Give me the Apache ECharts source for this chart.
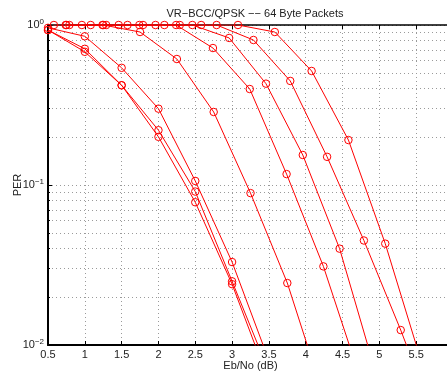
<!DOCTYPE html>
<html><head><meta charset="utf-8">
<script src="https://cdn.jsdelivr.net/npm/echarts@6/dist/echarts.min.js"></script>
<style>html,body{margin:0;padding:0;background:#fff}#c{width:447px;height:374px}</style>
</head><body><div id="c"></div>
<script>
const titleText = 'VR\u2212BCC/QPSK \u2212\u2212 64 Byte Packets';
const xName = 'Eb/No (dB)';
const yName = 'PER';

const c1x = [0.5, 1, 1.5, 2, 2.5, 3, 3.5];
const c1y = [0.96, 0.85, 0.54, 0.30, 0.106, 0.033, 0.0080];
const c2x = [0.5, 1, 1.5, 2, 2.5, 3, 3.5];
const c2y = [0.93, 0.71, 0.42, 0.22, 0.091, 0.025, 0.0068];
const c3x = [0.5, 1, 1.5, 2, 2.5, 3, 3.5];
const c3y = [0.93, 0.68, 0.42, 0.20, 0.078, 0.024, 0.0059];
const c4x = [0.75, 1.25, 1.75, 2.25, 2.75, 3.25, 3.75, 4.25];
const c4y = [1, 1, 0.904, 0.613, 0.286, 0.089, 0.0244, 0.0047];
const c5x = [0.74, 1.24, 1.74, 2.24, 2.74, 3.24, 3.74, 4.24, 4.74];
const c5y = [1, 1, 1, 1, 0.718, 0.398, 0.117, 0.031, 0.0062];
const c6x = [0.96, 1.46, 1.96, 2.46, 2.96, 3.46, 3.96, 4.46, 4.96];
const c6y = [1, 1, 1, 1, 0.83, 0.43, 0.154, 0.040, 0.0065];
const c7x = [0.79, 1.29, 1.79, 2.29, 2.79, 3.29, 3.79, 4.29, 4.79, 5.29, 5.79];
const c7y = [1, 1, 1, 1, 1, 0.806, 0.447, 0.150, 0.045, 0.0124, 0.0031];
const c8x = [0.58, 1.08, 1.58, 2.08, 2.58, 3.08, 3.58, 4.08, 4.58, 5.08, 5.58];
const c8y = [1, 1, 1, 1, 1, 1, 0.904, 0.516, 0.191, 0.043, 0.0076];

const curves = [[c1x,c1y],[c2x,c2y],[c3x,c3y],[c4x,c4y],[c5x,c5y],[c6x,c6y],[c7x,c7y],[c8x,c8y]];

const font = '"Liberation Sans", Arial, Helvetica, sans-serif';
const gridLine = { show: true, lineStyle: { color: '#9a9a9a', type: [1, 3], width: 1 } };

const series = curves.map(([xs, ys]) => ({
  type: 'line',
  data: xs.map((x, i) => [x, ys[i]]),
  symbol: 'circle',
  symbolSize: 7.5,
  showSymbol: true,
  lineStyle: { color: '#ff0000', width: 1 },
  itemStyle: { color: 'rgba(0,0,0,0)', borderColor: '#ff0000', borderWidth: 1 },
  silent: true,
  animation: false
}));

const chart = echarts.init(document.getElementById('c'), null, { renderer: 'canvas' });
chart.setOption({
  backgroundColor: '#fff',
  animation: false,
  textStyle: { fontFamily: font },
  title: {
    text: titleText, left: 250, top: 3, textAlign: 'center',
    textStyle: { fontSize: 11, fontWeight: 'normal', color: '#222', fontFamily: font }
  },
  grid: { left: 48, top: 25, right: -6, bottom: 29, containLabel: false, outerBoundsMode: 'none' },
  xAxis: [{
    type: 'value', min: 0.5, max: 6, interval: 0.5,
    name: xName, nameLocation: 'middle', nameGap: 15, nameMoveOverlap: false,
    nameTextStyle: { fontSize: 11, color: '#222', fontFamily: font },
    axisLine: { show: true, onZero: false, lineStyle: { color: '#000', width: 2 } },
    axisTick: { show: true, inside: true, length: 4, lineStyle: { color: '#000' } },
    axisLabel: { fontSize: 11, color: '#222', margin: 4, fontFamily: font },
    splitLine: gridLine
  }, {
    type: 'value', min: 0.5, max: 6, interval: 0.5, position: 'top',
    axisLine: { show: true, onZero: false, lineStyle: { color: '#000', width: 1.5 } },
    axisTick: { show: true, inside: true, length: 4, lineStyle: { color: '#000' } },
    axisLabel: { show: false },
    splitLine: { show: false }
  }],
  yAxis: [{
    type: 'log', logBase: 10, min: 0.01, max: 1,
    name: yName, nameLocation: 'middle', nameGap: 25, nameRotate: 90, nameMoveOverlap: false,
    nameTextStyle: { fontSize: 11, color: '#222', fontFamily: font },
    axisLine: { show: true, onZero: false, lineStyle: { color: '#000', width: 2 } },
    axisTick: { show: true, inside: true, length: 4, lineStyle: { color: '#000' } },
    minorTick: { show: true, splitNumber: 9, length: 2, lineStyle: { color: '#000' } },
    minorSplitLine: { show: true, lineStyle: { color: '#9a9a9a', type: [1, 3], width: 1 } },
    axisLabel: {
      margin: 4, color: '#222', fontFamily: font,
      formatter: v => '{b|10}{s|' + String(Math.round(Math.log10(v))).replace('-', '\u2212') + '}',
      rich: {
        b: { fontSize: 11, color: '#222', fontFamily: font },
        s: { fontSize: 8, color: '#222', fontFamily: font, padding: [0, 0, 7, 0] }
      }
    },
    splitLine: gridLine
  }],
  series: series
});
</script>
</body></html>
